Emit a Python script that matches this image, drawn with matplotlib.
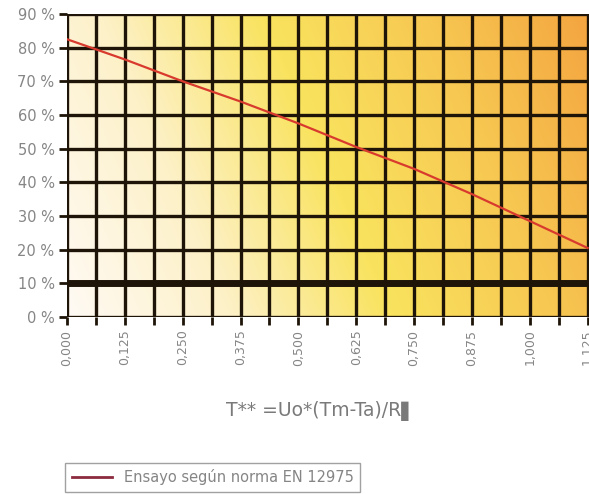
import matplotlib
matplotlib.use("Agg")
import matplotlib.pyplot as plt
import numpy as np
from matplotlib.colors import LinearSegmentedColormap
from matplotlib.lines import Line2D

# T** values and efficiency (%)
t_values = [0.0, 0.125, 0.25, 0.375, 0.5, 0.625, 0.75, 0.875, 1.0, 1.125]
efficiency = [82.5, 76.5, 70.0, 64.0, 57.5, 50.5, 44.0, 36.5, 28.5, 20.5]

x_ticks = [0.0, 0.125, 0.25, 0.375, 0.5, 0.625, 0.75, 0.875, 1.0, 1.125]
x_labels = ["0,000", "0,125", "0,250", "0,375", "0,500", "0,625",
            "0,750", "0,875", "1,000", "1,125"]
y_ticks = [0, 10, 20, 30, 40, 50, 60, 70, 80, 90]
y_labels = [f"{v} %" for v in y_ticks]

serie_label = "Ensayo según norma EN 12975"
x_title = "T** =Uo*(Tm-Ta)/R▌"

fig = plt.figure(figsize=(5.89, 4.94), dpi=100)
ax = fig.add_axes([67 / 589, 177 / 494, 1 - 67 / 589, 303 / 494])

xmax = 1.128
# background gradient: pale at top-left, yellow in the middle, orange bottom-right
cmap = LinearSegmentedColormap.from_list(
    "sol", ["#fffaf4", "#fdf1c8", "#f9e35e", "#f7c852", "#f4a540"])
u = np.linspace(0, 1, 300)
v = np.linspace(0, 1, 200)
U, V = np.meshgrid(u, v)
grad = 0.8 * U + 0.2 * V
ax.imshow(grad, cmap=cmap, extent=[0, xmax, 90, 0], aspect="auto",
          interpolation="bilinear", zorder=0, vmin=0, vmax=1)

grid_col = "#1e1408"
for xv in np.arange(0, xmax, 0.0625):
    ax.axvline(xv, color=grid_col, lw=2.4, zorder=1)
for yv in y_ticks:
    ax.axhline(yv, color=grid_col, lw=5 if yv == 10 else 2.4, zorder=1)

ax.plot(t_values, efficiency, color="#d83a2e", lw=1.6, zorder=3)

ax.set_xlim(0, xmax)
ax.set_ylim(0, 90)
ax.set_xticks(np.arange(0, xmax, 0.0625), minor=True)
ax.set_xticks(x_ticks)
ax.set_xticklabels(x_labels, rotation=90, fontsize=9, color="#858585")
ax.set_yticks(y_ticks)
ax.set_yticklabels(y_labels, fontsize=10.5, color="#858585")
ax.tick_params(axis="both", which="both", length=6, width=2, color=grid_col)
ax.tick_params(axis="x", pad=3)
ax.tick_params(axis="y", pad=3)
for s in ax.spines.values():
    s.set_visible(False)

fig.text(321 / 589, 1 - 411 / 494, x_title, ha="center", va="center",
         fontsize=13.5, color="#7a7a7a")

handle = Line2D([], [], color="#8c2a3e", lw=2)
fig.legend([handle], [serie_label], loc="lower left",
           bbox_to_anchor=(65 / 589, 2 / 494), fontsize=10.5, frameon=True,
           fancybox=False, edgecolor="#8a8a8a", handlelength=2.8,
           labelcolor="#858585", borderpad=0.45, borderaxespad=0)

fig.savefig("out.png", dpi=100)
